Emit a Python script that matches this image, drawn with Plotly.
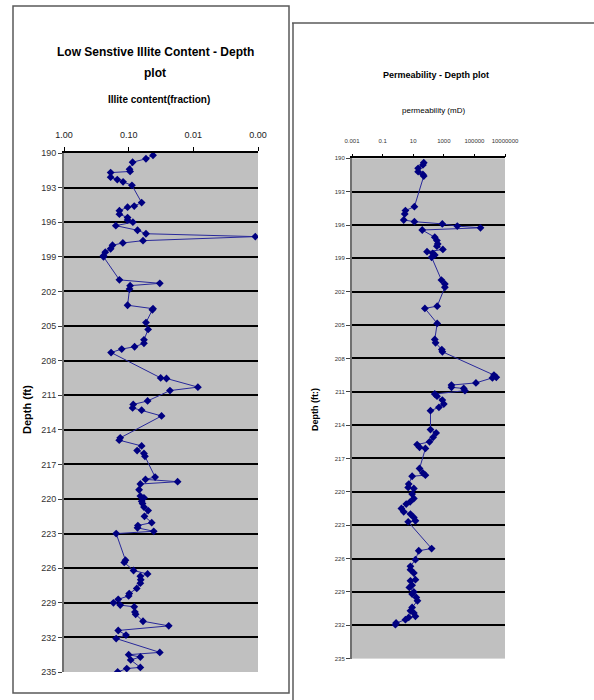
import plotly.graph_objects as go

W, H = 594, 700

# ---------------- Data ----------------
illite_depth = [190.2, 190.5, 190.8, 191.4, 191.6, 191.7, 192.1, 192.3, 192.5, 192.8,
                194.3, 194.6, 194.7, 195.0, 195.3, 195.6, 195.8, 196.0, 196.3, 196.7,
                197.0, 197.25, 197.6, 197.8, 198.0, 198.3, 198.6, 198.9, 199.0, 201.0,
                201.3, 201.5, 201.8, 203.2, 203.5, 203.6, 204.7, 205.3, 206.2, 206.5,
                206.8, 207.0, 207.3, 209.5, 209.55, 210.3, 210.6, 211.5, 211.8, 212.1,
                212.3, 212.8, 214.7, 214.9, 215.4, 215.8, 216.05, 216.3, 218.1, 218.3,
                218.5, 218.7, 219.2, 219.75, 219.9, 220.2, 220.4, 220.7, 221.0, 221.5,
                222.05, 222.3, 222.5, 222.8, 223.0, 225.3, 225.5, 226.2, 226.5, 226.7,
                227.0, 227.3, 227.75, 228.2, 228.4, 228.7, 229.0, 229.2, 229.35, 229.8,
                230.0, 230.6, 231.0, 231.4, 231.8, 232.1, 233.3, 233.5, 233.7, 233.95,
                234.6, 234.7, 235.0]
illite = [0.042, 0.054, 0.087, 0.097, 0.095, 0.19, 0.19, 0.15, 0.122, 0.089,
          0.063, 0.082, 0.104, 0.139, 0.139, 0.104, 0.104, 0.086, 0.158, 0.073,
          0.054, 0.0011, 0.060, 0.123, 0.178, 0.19, 0.23, 0.245, 0.245, 0.139,
          0.033, 0.095, 0.097, 0.104, 0.042, 0.043, 0.054, 0.050, 0.058, 0.058,
          0.081, 0.128, 0.187, 0.032, 0.026, 0.0085, 0.023, 0.051, 0.085, 0.087,
          0.063, 0.031, 0.135, 0.14, 0.063, 0.074, 0.058, 0.056, 0.039, 0.055,
          0.0175, 0.066, 0.069, 0.066, 0.058, 0.063, 0.061, 0.058, 0.050, 0.057,
          0.044, 0.072, 0.073, 0.041, 0.156, 0.112, 0.117, 0.084, 0.051, 0.066,
          0.065, 0.066, 0.075, 0.098, 0.100, 0.145, 0.172, 0.135, 0.082, 0.080,
          0.078, 0.060, 0.024, 0.145, 0.11, 0.156, 0.033, 0.10, 0.066, 0.093,
          0.066, 0.107, 0.148]

perm_depth = [190.4, 190.6, 190.9, 191.2, 191.45, 191.6, 194.35, 194.7, 195.0, 195.55,
              195.7, 195.9, 196.1, 196.25, 196.45, 197.1, 197.4, 197.7, 197.9, 198.2,
              198.4, 198.55, 198.7, 198.9, 200.95, 201.3, 201.6, 203.3, 203.5, 204.85,
              206.3, 206.6, 207.2, 207.4, 209.5, 209.7, 209.75, 210.2, 210.4, 210.6,
              210.7, 210.9, 211.2, 211.4, 211.75, 212.1, 212.4, 212.7, 214.4, 214.7,
              215.1, 215.5, 215.75, 216.0, 216.1, 217.9, 218.3, 218.5, 218.6, 219.3,
              219.6, 219.7, 220.2, 220.6, 220.9, 221.1, 221.5, 221.8, 222.0, 222.3,
              222.6, 222.7, 225.1, 225.3, 226.1, 226.7, 227.0, 227.3, 227.9, 228.0,
              228.4, 228.6, 229.0, 229.2, 229.5, 229.8, 230.4, 230.7, 230.9, 231.2,
              231.3, 231.5, 231.8, 231.95]
perm = [49, 43, 21, 21, 43, 49, 12, 3.1, 2.8, 2.4,
        12, 800, 7600, 250000, 39, 257, 355, 400, 355, 870,
        80, 190, 257, 160, 700, 1175, 1175, 370, 58, 370,
        257, 290, 740, 810, 1.9e6, 2.7e6, 1.5e6, 1.26e5, 3160, 3160,
        20000, 24000, 257, 360, 800, 1000, 480, 135, 135, 316,
        200, 117, 18, 26, 63, 26, 43, 63, 8.5, 5.1,
        4.7, 11, 8.5, 11, 6.3, 3.5, 1.7, 2.4, 6.6, 11,
        14, 4.7, 160, 23, 14, 6.6, 6.6, 11, 14, 6.6,
        8.5, 5.6, 11, 8.5, 16, 19, 8.5, 6.6, 11, 14,
        5.1, 3.1, 0.76, 0.69]

depth_ticks = list(range(190, 236, 3))
illite_tickvals = [1, 0.1, 0.01, 0.001]
illite_ticktext = ["1.00", "0.10", "0.01", "0.00"]
perm_tickvals = [0.001, 0.1, 10, 1000, 100000, 10000000]
perm_ticktext = ["0.001", "0.1", "10", "1000", "100000", "10000000"]

FONT = "Liberation Sans Narrow, Liberation Sans, Arial, sans-serif"

def px(x):
    return x / W

def py(y):
    return 1 - y / H

fig = go.Figure()
line_style = dict(color="#28289a", width=1)
marker_style = dict(symbol="diamond", size=6, color="#000080")

fig.add_trace(go.Scatter(x=illite, y=illite_depth, xaxis="x", yaxis="y",
                         mode="lines+markers", line=line_style, marker=marker_style,
                         showlegend=False))
fig.add_trace(go.Scatter(x=perm, y=perm_depth, xaxis="x2", yaxis="y2",
                         mode="lines+markers", line=line_style, marker=marker_style,
                         showlegend=False))

common_y = dict(range=[235, 190], tickvals=depth_ticks, showgrid=True,
                gridcolor="black", gridwidth=1.5, zeroline=False, showline=True,
                linecolor="#707070", linewidth=2, ticks="outside", ticklen=4,
                tickcolor="#404040", automargin=False)

fig.update_layout(
    width=W, height=H,
    margin=dict(l=0, r=0, t=0, b=0),
    paper_bgcolor="white",
    plot_bgcolor="#C0C0C0",
    font=dict(family=FONT, color="black"),
    xaxis=dict(type="log", domain=[px(64), px(258)], anchor="y", side="top",
               range=[0, -3], tickvals=illite_tickvals, ticktext=illite_ticktext,
               showgrid=False, zeroline=False, showline=True, linecolor="black",
               linewidth=1.5, ticks="outside", ticklen=4, tickcolor="black",
               tickangle=0, automargin=False, ticklabelstandoff=6,
               tickfont=dict(size=9, color="#222")),
    yaxis=dict(domain=[py(672), py(153)], anchor="x",
               tickfont=dict(size=9, color="#333"), **common_y),
    xaxis2=dict(type="log", domain=[px(352), px(505)], anchor="y2", side="top",
                range=[-3, 7], tickvals=perm_tickvals, ticktext=perm_ticktext,
                showgrid=False, zeroline=False, showline=True, linecolor="black",
                linewidth=1.5, ticks="outside", ticklen=3, tickcolor="black",
                tickangle=0, automargin=False, ticklabelstandoff=8,
                tickfont=dict(size=6, color="#333")),
    yaxis2=dict(domain=[py(658.6), py(158.3)], anchor="x2",
                tickfont=dict(size=6, color="#333"), **common_y),
)

annotations = [
    dict(text="<b>Low Senstive Illite Content - Depth</b>", x=px(155), y=py(52),
         font=dict(size=12)),
    dict(text="<b>plot</b>", x=px(155), y=py(73), font=dict(size=12)),
    dict(text="<b>Illite content(fraction)</b>", x=px(159), y=py(100), font=dict(size=10)),
    dict(text="<b>Depth (ft)</b>", x=px(27), y=py(410), textangle=-90, font=dict(size=11)),
    dict(text="<b>Permeability - Depth plot</b>", x=px(436), y=py(75), font=dict(size=9)),
    dict(text="permeability (mD)", x=px(433), y=py(110), font=dict(size=8)),
    dict(text="<b>Depth (ft:)</b>", x=px(315), y=py(410), textangle=-90, font=dict(size=9)),
]
for a in annotations:
    a.update(xref="paper", yref="paper", showarrow=False, xanchor="center", yanchor="middle")
fig.update_layout(annotations=annotations)

shapes = [
    dict(type="rect", x0=px(13), x1=px(289), y0=py(693), y1=py(6),
         line=dict(color="#5a5a5a", width=1.5)),
    dict(type="line", x0=px(292), x1=1, y0=py(23), y1=py(23),
         line=dict(color="#5a5a5a", width=1.5)),
    dict(type="line", x0=px(293), x1=px(293), y0=py(23), y1=0,
         line=dict(color="#5a5a5a", width=1.5)),
]
for s in shapes:
    s.update(xref="paper", yref="paper")
fig.update_layout(shapes=shapes)

fig.write_html("out.html")
